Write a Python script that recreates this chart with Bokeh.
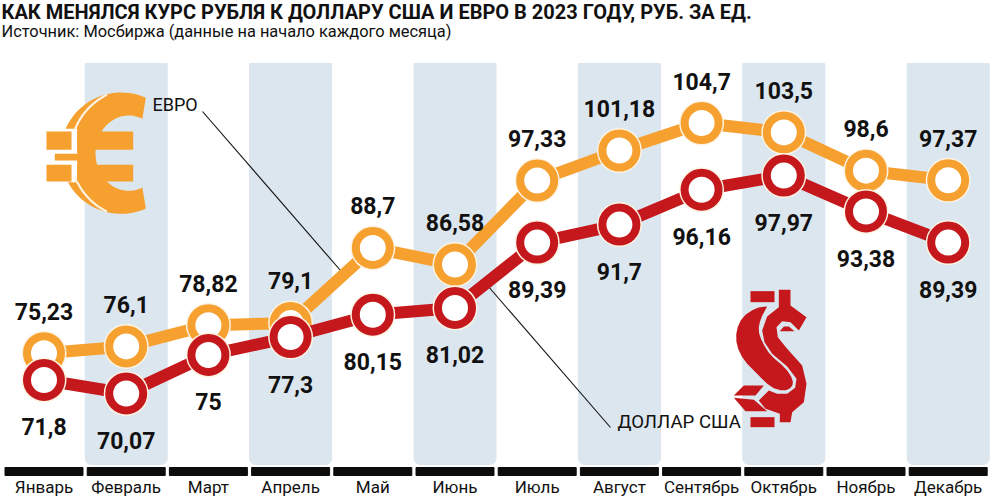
import numpy as np
from bokeh.core.properties import value
from bokeh.embed import file_html
from bokeh.resources import INLINE
from bokeh.plotting import figure
from bokeh.models import Label, ColumnDataSource

months = ["Январь", "Февраль", "Март", "Апрель", "Май", "Июнь", "Июль", "Август",
          "Сентябрь", "Октябрь", "Ноябрь", "Декабрь"]
euro = [75.23, 76.1, 78.82, 79.1, 88.7, 86.58, 97.33, 101.18, 104.7, 103.5, 98.6, 97.37]
dollar = [71.8, 70.07, 75, 77.3, 80.15, 81.02, 89.39, 91.7, 96.16, 97.97, 93.38, 89.39]
euro_text = ["75,23", "76,1", "78,82", "79,1", "88,7", "86,58", "97,33", "101,18", "104,7", "103,5", "98,6", "97,37"]
dollar_text = ["71,8", "70,07", "75", "77,3", "80,15", "81,02", "89,39", "91,7", "96,16", "97,97", "93,38", "89,39"]
title = "КАК МЕНЯЛСЯ КУРС РУБЛЯ К ДОЛЛАРУ США И ЕВРО В 2023 ГОДУ, РУБ. ЗА ЕД."
subtitle = "Источник: Мосбиржа (данные на начало каждого месяца)"

ORANGE = "#f6a02f"
RED = "#c4181c"
BAND = "#dce6ee"
HALO = "#fdf3e2"
FONT = "Roboto"

W, H = 992, 496
X0, DX = 43.5, 82.2
Y0, DY, V0 = 393.0, 7.81, 70.07


def dx(px):
    return (np.asarray(px, dtype=float) - X0) / DX


def dy(px):
    return V0 + (Y0 - np.asarray(px, dtype=float)) / DY


idx = list(range(12))
p = figure(width=W, height=H, output_backend="svg", toolbar_location=None,
           x_range=(float(dx(0)), float(dx(W))), y_range=(float(dy(H)), float(dy(0))),
           min_border=0, x_axis_location=None, y_axis_location=None,
           outline_line_color=None, background_fill_color="white", border_fill_color=None)
p.grid.visible = False

# alternating month bands and the black month rulers
p.vbar(x=idx[1::2], width=82 / DX, top=float(dy(63)), bottom=float(dy(464)), color=BAND,
       border_radius=(0, 0, 6, 6))
p.vbar(x=idx, width=78 / DX, top=float(dy(467)), bottom=float(dy(475)), color="#0c0c0c")
p.text(idx, [float(dy(486))] * 12, text=months, text_align="center", text_baseline="middle",
       text_font=value(FONT), text_font_size="17px", text_color="#111111")


def poly(pts, color):
    a = np.array(pts, dtype=float)
    p.patch(dx(a[:, 0]), dy(a[:, 1]), color=color, line_width=0)


def smooth(pts, n=2):
    a = np.array(pts, dtype=float)
    for _ in range(n):
        b = np.roll(a, -1, axis=0)
        a = np.column_stack([0.75 * a + 0.25 * b, 0.25 * a + 0.75 * b]).reshape(-1, 2)
    return a


# euro sign, traced in a local 3x grid
def eu(z):
    a = np.array(z, dtype=float)
    return np.column_stack([35 + a[:, 0] / 3, 85 + a[:, 1] / 3])


th = np.radians(np.linspace(66, 294, 70))
outer = np.column_stack([257 + 182 * np.cos(th), 203 - 182 * np.sin(th)])
inner = np.column_stack([280 + 100 * np.cos(th[::-1]), 203 - 113 * np.sin(th[::-1])])
poly(eu(np.vstack([outer, inner])), ORANGE)
poly(eu([(60, 130), (125, 130), (125, 290), (60, 290)]), "white")
for lo, hi in ((116, 160), (200, 244)):
    t = np.radians(np.linspace(lo, hi, 30))
    arc = eu(np.column_stack([300 + 195 * np.cos(t), 203 - 195 * np.sin(t)]))
    p.line(dx(arc[:, 0]), dy(arc[:, 1]), line_color=HALO, line_width=2.2)
for x1, x2, y1, y2 in ((33, 108, 138, 193), (125, 293, 138, 193), (33, 108, 238, 288),
                       (125, 293, 238, 288), (58, 135, 205, 225)):
    poly(eu([(x1, y1), (x2, y1), (x2, y2), (x1, y2)]), ORANGE)


# dollar sign, traced in a local 3x grid
def us(z):
    a = np.array(z, dtype=float)
    return np.column_stack([720 + a[:, 0] / 3, 280 + a[:, 1] / 3])


for box in ([(90, 32), (162, 32), (162, 65), (90, 65)],
            [(90, 410), (162, 410), (162, 440), (90, 440)],
            [(70, 315), (130, 315), (105, 345), (40, 345)],
            [(40, 352), (100, 358), (140, 392), (75, 392)],
            [(178, 152), (222, 152), (205, 138), (190, 138)]):
    poly(us(box), RED)
part_a = smooth([(140, 78), (105, 82), (65, 110), (47, 150), (48, 195), (70, 240), (110, 280),
                 (150, 320), (190, 332), (215, 320), (218, 298), (195, 262), (150, 225),
                 (125, 185), (113, 150), (120, 115), (140, 78)], 1)
poly(us(part_a), RED)
part_b = [(175, 28), (210, 28), (210, 75), (258, 110), (235, 150), (210, 125), (185, 122),
          (168, 140), (172, 170), (200, 205), (245, 255), (258, 310), (250, 365), (215, 395),
          (210, 425), (178, 425), (178, 400), (135, 385), (115, 360), (145, 330), (170, 340),
          (200, 340), (224, 322), (228, 295), (200, 258), (155, 220), (132, 185), (125, 150),
          (140, 108), (175, 80)]
poly(us(part_b), RED)

# leader lines
p.line(dx([202, 340]), dy([111, 270]), line_color="#111111", line_width=1.1)
p.line(dx([487, 610]), dy([285, 427]), line_color="#111111", line_width=1.1)


def series(values, color):
    p.line(idx, values, line_color=color, line_width=12)
    p.scatter(idx, values, size=45, fill_color=HALO, line_color=None)
    p.scatter(idx, values, size=34, fill_color="white", line_color=color, line_width=8)


series(euro, ORANGE)
series(dollar, RED)

for values, texts, off in ((euro, euro_text, -42), (dollar, dollar_text, 47)):
    src = ColumnDataSource(dict(x=idx, y=values, t=texts))
    p.text("x", "y", text="t", source=src, y_offset=off, text_align="center",
           text_baseline="middle", text_font=value(FONT), text_font_size="23px",
           text_font_style="bold", text_color="#111111")


def label(px, py, text, size, style="normal", align="left"):
    p.add_layout(Label(x=float(dx(px)), y=float(dy(py)), text=text, text_font=FONT,
                       text_font_size=size, text_font_style=style, text_align=align,
                       text_baseline="middle", text_color="#111111"))


label(1, 11, title, "20px", "bold")
label(1, 31, subtitle, "16.4px")
label(152, 104, "ЕВРО", "18px")
label(617, 421, "ДОЛЛАР США", "18.6px")

open("out.html", "w").write(file_html(p, INLINE))
